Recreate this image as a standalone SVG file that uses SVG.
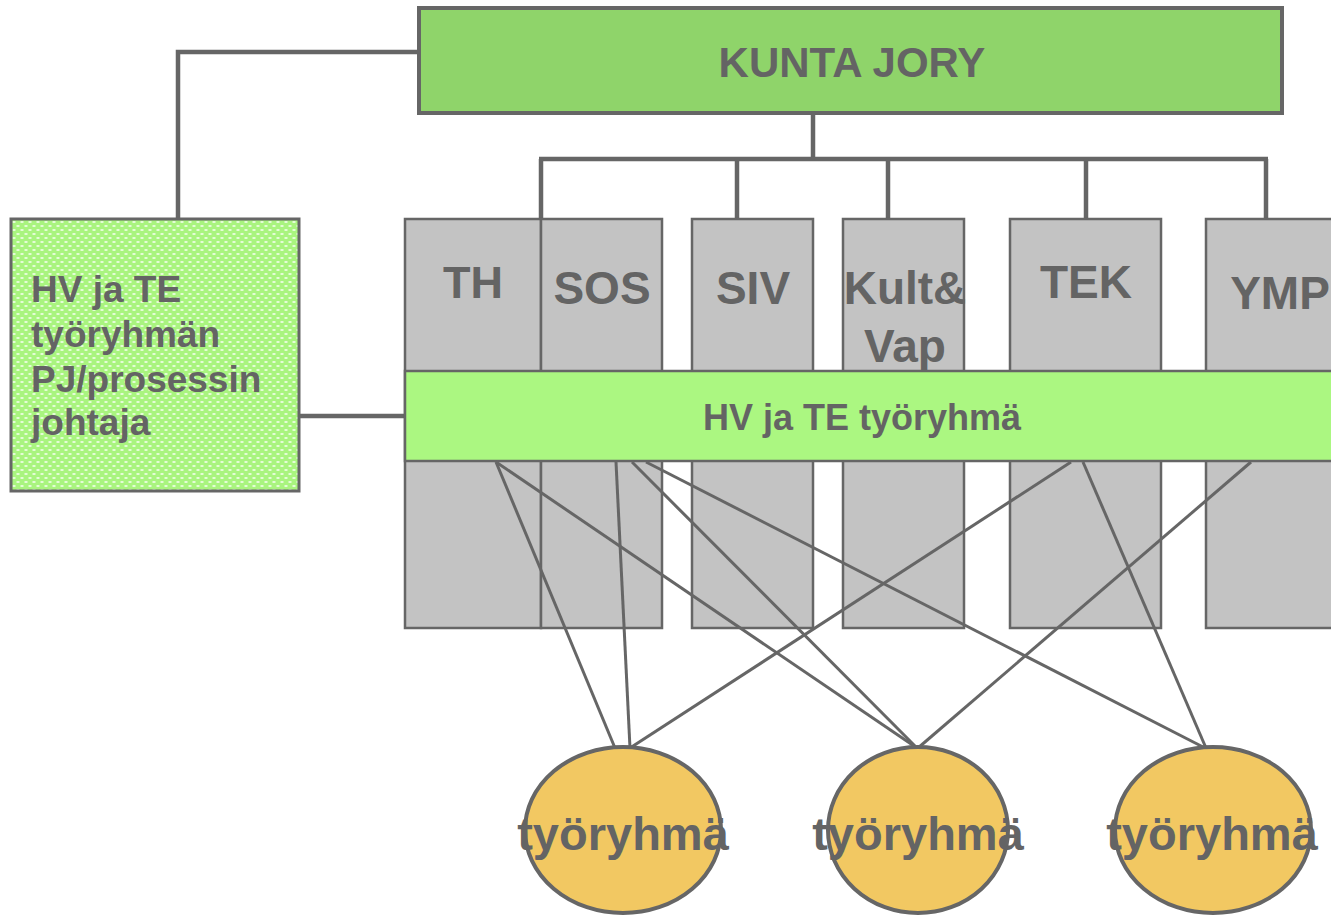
<svg xmlns="http://www.w3.org/2000/svg" width="1331" height="915" viewBox="0 0 1331 915">
<style>
.t{font-family:"Liberation Sans",Arial,sans-serif;font-weight:bold;fill:#646464;text-anchor:middle}
.col{fill:#c3c3c3;stroke:#666;stroke-width:2.5}
.wire{stroke:#666;stroke-width:3;fill:none}
.bus{stroke:#666;stroke-width:4.5;fill:none}
.grp{fill:#f2c862;stroke:#666;stroke-width:4}
</style>
<defs>
<pattern id="dots" width="8" height="8" patternUnits="userSpaceOnUse">
<rect width="8" height="8" fill="#a9f47f"/>
<ellipse cx="2" cy="2" rx="1.8" ry="0.9" fill="#fff" opacity="0.75"/>
<ellipse cx="6" cy="6" rx="1.8" ry="0.9" fill="#fff" opacity="0.75"/>
</pattern>
</defs>
<g id="connectors-top">
<polyline class="bus" points="419,52 178,52 178,219"/>
<line class="bus" x1="299" y1="416" x2="405" y2="416"/>
<line class="bus" x1="813" y1="113" x2="813" y2="159"/>
<line class="bus" x1="539" y1="159" x2="1268" y2="159" stroke-width="5"/>
<line class="bus" x1="541" y1="159" x2="541" y2="219"/>
<line class="bus" x1="737" y1="159" x2="737" y2="219"/>
<line class="bus" x1="888" y1="159" x2="888" y2="219"/>
<line class="bus" x1="1086" y1="159" x2="1086" y2="219"/>
<line class="bus" x1="1266" y1="159" x2="1266" y2="219"/>
</g>
<g id="kunta-jory">
<rect x="419" y="8" width="863" height="105" fill="#8fd46a" stroke="#666" stroke-width="4"/>
<text class="t" x="852" y="77" font-size="42">KUNTA JORY</text>
</g>
<g id="pj">
<rect x="11" y="219" width="288" height="272" fill="url(#dots)" stroke="#666" stroke-width="3"/>
<text class="t" x="31" y="302" font-size="37" style="text-anchor:start">HV ja TE</text>
<text class="t" x="31" y="347" font-size="37" style="text-anchor:start">työryhmän</text>
<text class="t" x="31" y="392" font-size="37" style="text-anchor:start">PJ/prosessin</text>
<text class="t" x="31" y="435" font-size="37" style="text-anchor:start">johtaja</text>
</g>
<g id="col-th"><rect class="col" x="405" y="219" width="136" height="409"/><text class="t" x="473" y="298" font-size="45">TH</text></g>
<g id="col-sos"><rect class="col" x="541" y="219" width="121" height="409"/><text class="t" x="602" y="304" font-size="46">SOS</text></g>
<g id="col-siv"><rect class="col" x="692" y="219" width="121" height="409"/><text class="t" x="753" y="304" font-size="46">SIV</text></g>
<g id="col-kult"><rect class="col" x="843" y="219" width="121" height="409"/><text class="t" x="905" y="304" font-size="46">Kult&amp;</text><text class="t" x="905" y="362" font-size="46">Vap</text></g>
<g id="col-tek"><rect class="col" x="1010" y="219" width="151" height="409"/><text class="t" x="1086" y="298" font-size="46">TEK</text></g>
<g id="col-ymp"><rect class="col" x="1206" y="219" width="151" height="409"/><text class="t" x="1280" y="309" font-size="46">YMP</text></g>
<g id="hv-te">
<rect x="405" y="371" width="940" height="90" fill="#abf781" stroke="#666" stroke-width="2.5"/>
<text class="t" x="862" y="430" font-size="36">HV ja TE työryhmä</text>
</g>
<g id="connectors">
<line class="wire" x1="496" y1="462" x2="615" y2="748"/>
<line class="wire" x1="496" y1="462" x2="917" y2="748"/>
<line class="wire" x1="616" y1="462" x2="630" y2="748"/>
<line class="wire" x1="632" y1="462" x2="917" y2="748"/>
<line class="wire" x1="646" y1="462" x2="1205" y2="748"/>
<line class="wire" x1="1071" y1="462" x2="630" y2="748"/>
<line class="wire" x1="1083" y1="462" x2="1206" y2="748"/>
<line class="wire" x1="1251" y1="462" x2="918" y2="748"/>
</g>
<g id="group-1"><ellipse class="grp" cx="623" cy="830" rx="98" ry="83"/><text class="t" x="623" y="850" font-size="47">työryhmä</text></g>
<g id="group-2"><ellipse class="grp" cx="918" cy="830" rx="90" ry="83"/><text class="t" x="918" y="850" font-size="47">työryhmä</text></g>
<g id="group-3"><ellipse class="grp" cx="1213" cy="830" rx="98" ry="83"/><text class="t" x="1212" y="850" font-size="47">työryhmä</text></g>
</svg>
